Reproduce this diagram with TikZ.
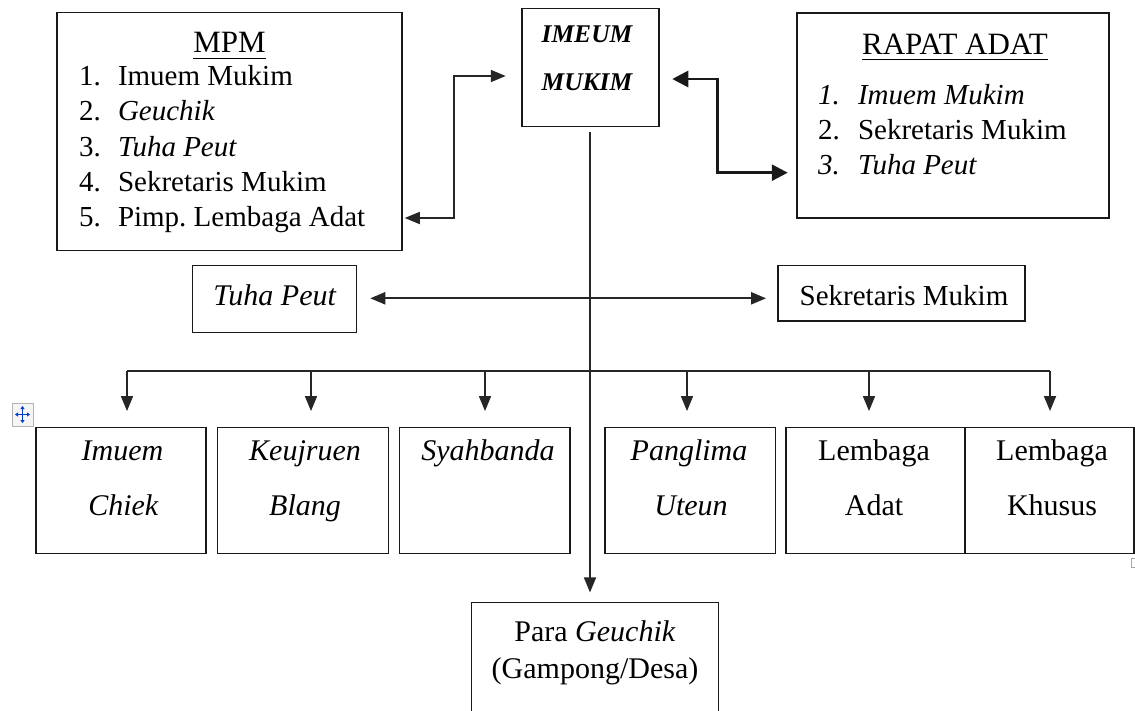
\documentclass[tikz,border=0pt]{standalone}
\usepackage{fontspec}
\setmainfont{Liberation Serif}
\usetikzlibrary{arrows.meta,calc}
\newcommand\fsz[1]{\fontsize{#1}{#1}\selectfont}
\frenchspacing
\tikzset{
  box/.style={draw=black!90, line width=1.5pt, inner sep=0pt, rectangle},
  txt/.style={inner sep=0pt, outer sep=0pt, font=\fsz{29}},
  btxt/.style={inner sep=0pt, outer sep=0pt, font=\fsz{30}},
  conn/.style={line width=1.7pt, draw=black!85},
  thickconn/.style={line width=2.8pt, draw=black!90},
  tipa/.style={{Triangle[length=15pt,width=12pt]}-{Triangle[length=15pt,width=12pt]}},
  tipb/.style={{Triangle[length=16pt,width=16pt]}-{Triangle[length=16pt,width=16pt]}},
  tipd/.style={-{Triangle[length=15pt,width=12pt]}},
}
\begin{document}
\begin{tikzpicture}[x=1pt,y=-1pt]
\useasboundingbox (0,0) rectangle (1135,710);
\clip (0,0) rectangle (1135,710);
\fill[white] (0,0) rectangle (1135,710);

% ---------- boxes ----------
\node[box, minimum width=345pt, minimum height=238pt] (mpm) at (229.5,131.5) {};
\node[box, minimum width=137pt, minimum height=118pt] (imeum) at (590.5,67.5) {};
\node[box, minimum width=312pt, minimum height=205pt] (rapat) at (953,115.3) {};
\node[box, minimum width=164pt, minimum height=66.6pt] (tuha) at (274.5,299) {};
\node[box, minimum width=247pt, minimum height=55.3pt] (sek) at (901.3,293.3) {};
\node[box, minimum width=170pt, minimum height=126.4pt] (b1) at (121,490.5) {};
\node[box, minimum width=170.6pt, minimum height=126.4pt] (b2) at (303,490.5) {};
\node[box, minimum width=170.7pt, minimum height=126.4pt] (b3) at (484.7,490.5) {};
\node[box, minimum width=170.5pt, minimum height=126.4pt] (b4) at (690.2,490.5) {};
\node[box, minimum width=179pt, minimum height=126.4pt] (b5) at (875.5,490.5) {};
\node[box, minimum width=169pt, minimum height=126.4pt] (b6) at (1049.5,490.5) {};
\node[box, minimum width=247pt, minimum height=130pt] (para) at (595,667.7) {};

% ---------- MPM text ----------
\node[txt, font=\fsz{31}, anchor=base] (mpmt) at (229.5,52.7) {MPM};
\draw[line width=1.3pt] ([yshift=-5.5pt]mpmt.base west) -- ([yshift=-5.5pt]mpmt.base east);
\node[txt, anchor=base west] (mn1) at (79,85) {1.};
\node[txt, anchor=base west] (mi1) at (118,85) {Imuem Mukim};
\node[txt, anchor=base west] (mn2) at (79,120.7) {2.};
\node[txt, anchor=base west] (mi2) at (118,120.7) {\textit{Geuchik}};
\node[txt, anchor=base west] (mn3) at (79,156) {3.};
\node[txt, anchor=base west] (mi3) at (118,156) {\textit{Tuha Peut}};
\node[txt, anchor=base west] (mn4) at (79,191.7) {4.};
\node[txt, anchor=base west] (mi4) at (118,191.7) {Sekretaris Mukim};
\node[txt, anchor=base west] (mn5) at (79,226.7) {5.};
\node[txt, anchor=base west] (mi5) at (118,226.7) {Pimp.\ Lembaga Adat};

% ---------- IMEUM MUKIM ----------
\node[txt, font=\fsz{25.5}\bfseries\itshape, anchor=base] (im1) at (587,42) {IMEUM};
\node[txt, font=\fsz{25.5}\bfseries\itshape, anchor=base] (im2) at (587,90) {MUKIM};

% ---------- RAPAT ADAT ----------
\node[txt, font=\fsz{31}, anchor=base] (rat) at (955,54) {RAPAT ADAT};
\draw[line width=1.3pt] ([yshift=-5.5pt]rat.base west) -- ([yshift=-5.5pt]rat.base east);
\node[txt, anchor=base west] (rn1) at (818,104) {\textit{1.}};
\node[txt, anchor=base west] (ri1) at (858,104) {\textit{Imuem Mukim}};
\node[txt, anchor=base west] (rn2) at (818,139.3) {2.};
\node[txt, anchor=base west] (ri2) at (858,139.3) {Sekretaris Mukim};
\node[txt, anchor=base west] (rn3) at (818,174.3) {\textit{3.}};
\node[txt, anchor=base west] (ri3) at (858,174.3) {\textit{Tuha Peut}};

% ---------- middle ----------
\node[btxt, anchor=base] (tt) at (275,305) {\textit{Tuha Peut}};
\node[txt, anchor=base] (st) at (904,305.7) {Sekretaris Mukim};

% ---------- bottom row ----------
\node[btxt, anchor=base] (b1a) at (122.5,460) {\textit{Imuem}};
\node[btxt, anchor=base] (b1b) at (123.5,515) {\textit{Chiek}};
\node[btxt, anchor=base] (b2a) at (305,460) {\textit{Keujruen}};
\node[btxt, anchor=base] (b2b) at (305,515) {\textit{Blang}};
\node[btxt, anchor=base] (b3a) at (488,460) {\textit{Syahbanda}};
\node[btxt, anchor=base] (b4a) at (689,460) {\textit{Panglima}};
\node[btxt, anchor=base] (b4b) at (691,515) {\textit{Uteun}};
\node[btxt, anchor=base] (b5a) at (874,460) {Lembaga};
\node[btxt, anchor=base] (b5b) at (874,515) {Adat};
\node[btxt, anchor=base] (b6a) at (1052,460) {Lembaga};
\node[btxt, anchor=base] (b6b) at (1052,515) {Khusus};

% ---------- Para Geuchik ----------
\node[btxt, anchor=base] (pa) at (595,641) {Para \textit{Geuchik}};
\node[btxt, anchor=base] (pb) at (595,678) {(Gampong/Desa)};

% ---------- connectors ----------
\coordinate (j1) at (454,76);
\coordinate (j2) at (454,218);
\draw[conn, tipa, shorten <=15.5pt, shorten >=2pt] (imeum.west |- j1) -- (j1) -- (j2) -- (mpm.east |- j2);

\coordinate (j3) at (717.5,79);
\coordinate (j4) at (717.5,172.7);
\draw[thickconn, tipb, shorten <=12.5pt, shorten >=8.5pt] (imeum.east |- j3) -- (j3) -- (j4) -- (rapat.west |- j4);

\draw[conn, line width=2.2pt, tipa, shorten <=13pt, shorten >=11pt] (tuha.east |- 0,298.3) -- (sek.west |- 0,298.3);

\coordinate (vt) at (590,126.7);
\draw[conn, tipd, shorten <=5pt, shorten >=9.5pt] (imeum.south -| vt) -- (vt |- para.north);

\coordinate (d1) at (127,371);
\coordinate (d2) at (311,371);
\coordinate (d3) at (485,371);
\coordinate (d4) at (687,371);
\coordinate (d5) at (869,371);
\coordinate (d6) at (1050,371);
\draw[conn] (d1) -- (d6);
\foreach \d/\b in {d1/b1,d2/b2,d3/b3,d4/b4,d5/b5,d6/b6}{
  \draw[conn, tipd, shorten >=15.5pt] (\d) -- (\d |- \b.north);
}

% ---------- editor marks ----------
\draw[black!30, fill=black!4, line width=0.8pt] (12,403) rectangle (33,426);
\draw[blue!70!cyan!80!black, line width=1pt, {Triangle[length=3pt,width=4pt]}-{Triangle[length=3pt,width=4pt]}] (15,414.5) -- (30,414.5);
\draw[blue!70!cyan!80!black, line width=1pt, {Triangle[length=3pt,width=4pt]}-{Triangle[length=3pt,width=4pt]}] (22.5,406) -- (22.5,423);
\draw[black!35, line width=0.8pt] (1135,558) -- (1131,558) -- (1131,567) -- (1135,567);
\end{tikzpicture}
\end{document}
